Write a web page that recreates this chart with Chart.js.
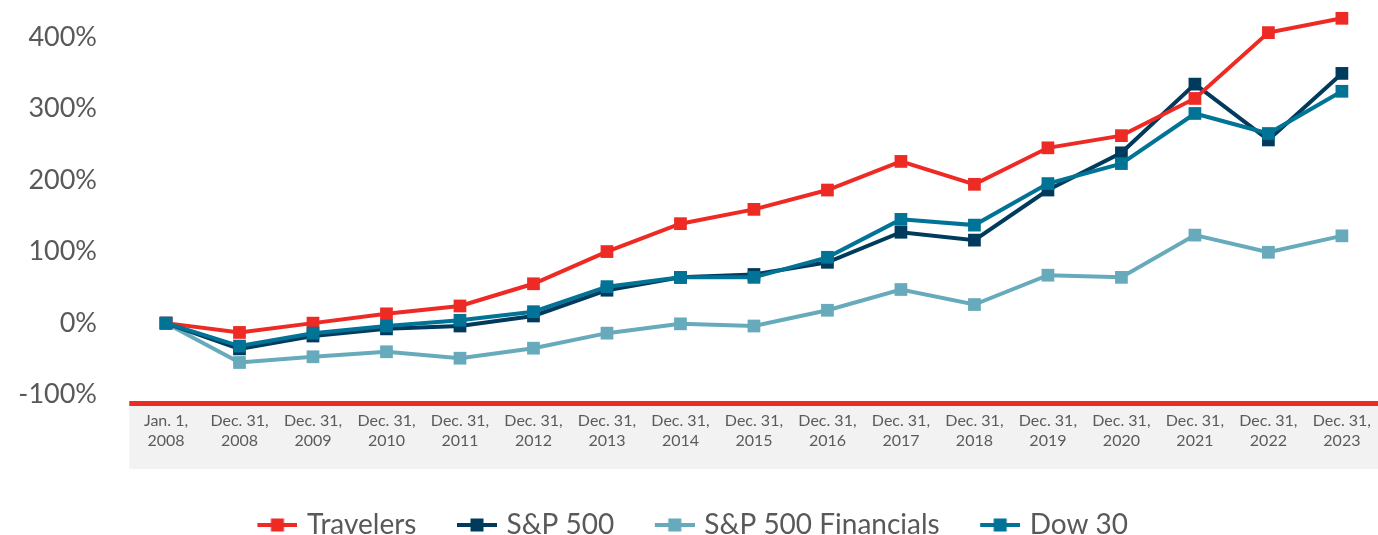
<!DOCTYPE html>
<html>
<head>
<meta charset="utf-8">
<script src="https://cdn.jsdelivr.net/npm/chart.js@4/dist/chart.umd.min.js"></script>
<style>
  html, body { margin: 0; padding: 0; background: #fff; }
  #wrap { width: 1378px; height: 535px; }
</style>
</head>
<body>
<div id="wrap"><canvas id="returnsChart"></canvas></div>
<script>
// x labels (two lines each)
const categories = [
  ["Jan. 1,", "2008"], ["Dec. 31,", "2008"], ["Dec. 31,", "2009"], ["Dec. 31,", "2010"],
  ["Dec. 31,", "2011"], ["Dec. 31,", "2012"], ["Dec. 31,", "2013"], ["Dec. 31,", "2014"],
  ["Dec. 31,", "2015"], ["Dec. 31,", "2016"], ["Dec. 31,", "2017"], ["Dec. 31,", "2018"],
  ["Dec. 31,", "2019"], ["Dec. 31,", "2020"], ["Dec. 31,", "2021"], ["Dec. 31,", "2022"],
  ["Dec. 31,", "2023"]
];

// cumulative return, %
const travelers    = [0, -13, 0, 13, 24, 55, 100, 139, 159, 186, 226, 194, 245, 262, 314, 406, 426];
const sp500        = [0, -36, -18, -8, -4, 10, 46, 64, 68, 85, 127, 116, 186, 238, 334, 256, 349];
const spFinancials = [0, -55, -47, -40, -49, -35, -14, -1, -4, 18, 47, 26, 67, 64, 123, 99, 122];
const dow30        = [0, -32, -14, -4, 4, 16, 51, 64, 64, 92, 145, 137, 195, 223, 293, 265, 324];

const yTicks = [-100, 0, 100, 200, 300, 400];

const RED = "#ee2a24";
const NAVY = "#003a5c";
const LIGHT = "#66aabb";
const TEAL = "#007396";

Chart.defaults.font.family = "Lato, 'Open Sans', sans-serif";

// legend marker: line with a square in the middle (left part transparent)
function legendMarker(color) {
  const c = document.createElement("canvas");
  c.width = 82;
  c.height = 16;
  const g = c.getContext("2d");
  g.fillStyle = color;
  g.fillRect(42, 6, 40, 4);
  g.fillRect(55.5, 1.5, 13, 13);
  return c;
}

function series(label, data, color, order) {
  return {
    label: label,
    data: data,
    borderColor: color,
    backgroundColor: color,
    borderWidth: 4,
    pointStyle: "rect",
    pointRadius: 9,
    pointHoverRadius: 9,
    pointBorderWidth: 0,
    tension: 0,
    order: order,
    marker: legendMarker(color)
  };
}

// grey band under the x axis and the red axis line
const axisBand = {
  id: "axisBand",
  beforeDraw(chart) {
    const { ctx, chartArea, scales } = chart;
    const step = scales.x.getPixelForValue(1) - scales.x.getPixelForValue(0);
    const left = chartArea.left - step / 2;
    ctx.save();
    ctx.fillStyle = "#f2f2f2";
    ctx.fillRect(left, chartArea.bottom + 2, chart.width - left, 63);
    ctx.fillStyle = RED;
    ctx.fillRect(left, chartArea.bottom - 3, chart.width - left, 5);
    ctx.restore();
  }
};

const ctx = document.getElementById("returnsChart").getContext("2d");
new Chart(ctx, {
  type: "line",
  data: {
    labels: categories,
    datasets: [
      series("Travelers", travelers, RED, 1),
      series("S&P 500", sp500, NAVY, 2),
      series("S&P 500 Financials", spFinancials, LIGHT, 3),
      series("Dow 30", dow30, TEAL, 0)
    ]
  },
  options: {
    responsive: true,
    maintainAspectRatio: false,
    animation: false,
    layout: { padding: { top: 8, right: 30, bottom: -14, left: 0 } },
    scales: {
      x: {
        offset: false,
        grid: { display: false, drawTicks: false },
        border: { display: false },
        ticks: {
          color: "#5b5b5b",
          font: { size: 16, lineHeight: 1.25 },
          padding: 7,
          maxRotation: 0,
          autoSkip: false
        },
        afterFit(scale) { scale.height = 104; }
      },
      y: {
        min: -113,
        max: 439,
        grid: { display: false, drawTicks: false },
        border: { display: false },
        afterBuildTicks(scale) {
          scale.ticks = yTicks.map(v => ({ value: v }));
        },
        ticks: {
          color: "#595959",
          font: { size: 27 },
          padding: 69,
          callback: v => v + "%"
        },
        afterFit(scale) {
          scale.width = 166;
          scale.paddingTop = 0;
          scale.paddingBottom = 0;
        }
      }
    },
    plugins: {
      tooltip: { enabled: false },
      legend: {
        position: "bottom",
        labels: {
          color: "#595959",
          font: { size: 28 },
          usePointStyle: true,
          pointStyleWidth: 73,
          padding: 3,
          generateLabels(chart) {
            return chart.data.datasets.map((ds, i) => ({
              text: ds.label,
              fillStyle: ds.borderColor,
              strokeStyle: ds.borderColor,
              lineWidth: 0,
              pointStyle: ds.marker,
              fontColor: "#595959",
              hidden: !chart.isDatasetVisible(i),
              datasetIndex: i
            }));
          }
        }
      }
    }
  },
  plugins: [axisBand]
});
</script>
</body>
</html>
